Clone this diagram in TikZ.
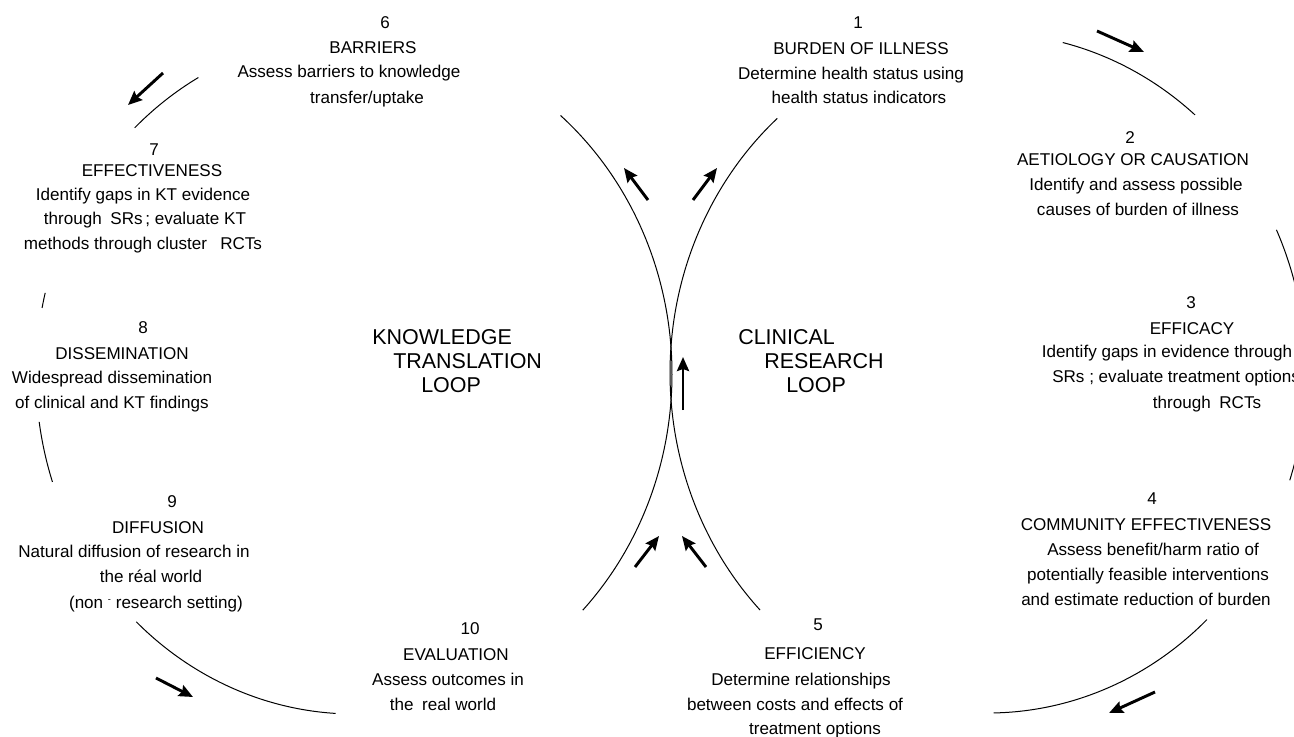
\documentclass[tikz,border=0pt]{standalone}
\usepackage{fontspec}
\setmainfont{Liberation Sans}
\usetikzlibrary{arrows.meta}
\newcommand\bodyfont{\fontsize{12.8pt}{15pt}\selectfont}
\newcommand\loopfont{\fontsize{16.1pt}{19pt}\selectfont}
\begin{document}
\begin{tikzpicture}[x=0.75pt, y=-0.75pt,
  txt/.style={font=\bodyfont, inner sep=0pt, text height=9.2pt, text depth=0pt},
  looplbl/.style={font=\loopfont, inner sep=0pt, text height=11.5pt, text depth=0pt, anchor=west},
  loopline/.style={line width=0.75pt},
  flow/.style={line width=2.2pt, -{Stealth[length=10.5pt, width=9pt, inset=1.5pt]}}]
\clip (0,0) rectangle (1294,737);
\fill[white] (0,0) rectangle (1294,737);
\coordinate (Lc) at (354,374);
\coordinate (Rc) at (988,373);
% knowledge translation loop (left)
\draw[loopline] ([shift={(-49.5:318 and 340)}]Lc) arc[start angle=-49.5, end angle=44, x radius=318, y radius=340];
\draw[loopline] ([shift={(-119.3:318 and 340)}]Lc) arc[start angle=-119.3, end angle=-133.6, x radius=318, y radius=340];
\draw[loopline] ([shift={(-166.2:318 and 340)}]Lc) arc[start angle=-166.2, end angle=-168.8, x radius=318, y radius=340];
\draw[loopline] ([shift={(161.5:318 and 340)}]Lc) arc[start angle=161.5, end angle=171.9, x radius=318, y radius=340];
\draw[loopline] ([shift={(93.3:318 and 340)}]Lc) arc[start angle=93.3, end angle=133.2, x radius=318, y radius=340];
% clinical research loop (right)
\draw[loopline] ([shift={(135.8:318 and 340)}]Rc) arc[start angle=135.8, end angle=228.5, x radius=318, y radius=340];
\draw[loopline] ([shift={(-76.4:318 and 340)}]Rc) arc[start angle=-76.4, end angle=-49.4, x radius=318, y radius=340];
\draw[loopline] ([shift={(-24.9:318 and 340)}]Rc) arc[start angle=-24.9, end angle=-6, x radius=318, y radius=340];
\draw[loopline] ([shift={(6:318 and 340)}]Rc) arc[start angle=6, end angle=18.4, x radius=318, y radius=340];
\draw[loopline] ([shift={(46.5:318 and 340)}]Rc) arc[start angle=46.5, end angle=89, x radius=318, y radius=340];
% direction arrows
\draw[flow] (1097,31) -- (1144,52);
\draw[flow] (1155,692) -- (1109,713);
\draw[flow] (156,678) -- (193,697);
\draw[flow] (163,73) -- (128,105);
\draw[flow] (648,200) -- (624,168);
\draw[flow] (693,200) -- (717,168);
\draw[flow] (635,567) -- (659,536);
\draw[flow] (706,567) -- (682,536);
\draw[flow] (683,410) -- (683,357);
% loop titles
\node[looplbl] (kt1) at (372,337) {KNOWLEDGE};
\node[looplbl] (kt2) at (393,361) {TRANSLATION};
\node[looplbl] (kt3) at (421,385) {LOOP};
\node[looplbl] (cr1) at (738,337) {CLINICAL};
\node[looplbl] (cr2) at (764,361) {RESEARCH};
\node[looplbl] (cr3) at (786,385) {LOOP};
% 1
\node[txt] (s1n) at (858,22) {1};
\node[txt] (s1t) at (861,48) {BURDEN OF ILLNESS};
\node[txt] (s1a) at (851,73) {Determine health status using};
\node[txt] (s1b) at (859,97) {health status indicators};
% 2
\node[txt] (s2n) at (1130,137) {2};
\node[txt] (s2t) at (1133,159) {AETIOLOGY OR CAUSATION};
\node[txt] (s2a) at (1136,184) {Identify and assess possible};
\node[txt] (s2b) at (1138,209) {causes of burden of illness};
% 3
\node[txt] (s3n) at (1191,302) {3};
\node[txt] (s3t) at (1192,328) {EFFICACY};
\node[txt] (s3a) at (1167,351) {Identify gaps in evidence through};
\node[txt, anchor=west] (s3b) at (1052,376) {SRs ; evaluate treatment options};
\node[txt] (s3c) at (1207,402) {through\enspace RCTs};
% 4
\node[txt] (s4n) at (1152,498) {4};
\node[txt] (s4t) at (1146,524) {COMMUNITY EFFECTIVENESS};
\node[txt] (s4a) at (1153,549) {Assess benefit/harm ratio of};
\node[txt] (s4b) at (1148,574) {potentially feasible interventions};
\node[txt] (s4c) at (1146,599) {and estimate reduction of burden};
% 5
\node[txt] (s5n) at (818,624) {5};
\node[txt] (s5t) at (815,653) {EFFICIENCY};
\node[txt] (s5a) at (801,679) {Determine relationships};
\node[txt] (s5b) at (795,704) {between costs and effects of};
\node[txt] (s5c) at (815,728) {treatment options};
% 6
\node[txt] (s6n) at (385,22) {6};
\node[txt] (s6t) at (373,47) {BARRIERS};
\node[txt] (s6a) at (349,71) {Assess barriers to knowledge};
\node[txt] (s6b) at (367,97) {transfer/uptake};
% 7
\node[txt] (s7n) at (154,149) {7};
\node[txt] (s7t) at (152,170) {EFFECTIVENESS};
\node[txt] (s7a) at (143,194) {Identify gaps in KT evidence};
\node[txt] (s7b) at (145,218) {through\enspace SRs\,; evaluate KT};
\node[txt] (s7c) at (143,243) {methods through cluster\enspace\ RCTs};
% 8
\node[txt] (s8n) at (143,327) {8};
\node[txt] (s8t) at (122,353) {DISSEMINATION};
\node[txt] (s8a) at (112,377) {Widespread dissemination};
\node[txt] (s8b) at (112,402) {of clinical and KT findings};
% 9
\node[txt] (s9n) at (172,501) {9};
\node[txt] (s9t) at (158,527) {DIFFUSION};
\node[txt] (s9a) at (134,551) {Natural diffusion of research in};
\node[txt] (s9b) at (151,576) {the réal world};
\node[txt] (s9c) at (156,602) {(non {\raisebox{0.6ex}{\fontsize{7pt}{7pt}\selectfont -}} research setting)};
% 10
\node[txt] (s10n) at (470,628) {10};
\node[txt] (s10t) at (456,654) {EVALUATION};
\node[txt] (s10a) at (448,679) {Assess outcomes in};
\node[txt] (s10b) at (443,704) {the\enspace real world};
\end{tikzpicture}
\end{document}
